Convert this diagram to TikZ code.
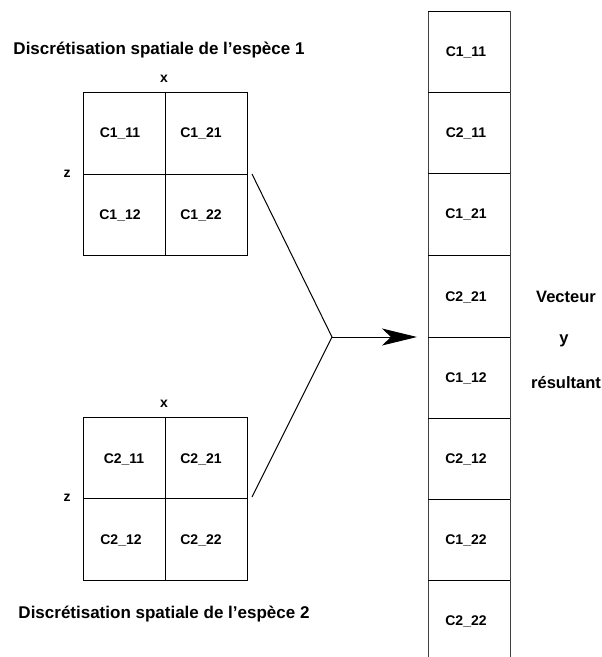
\documentclass[tikz,border=0pt]{standalone}
\usepackage{fontspec}
\setmainfont{Liberation Sans}
\usetikzlibrary{arrows.meta}
\begin{document}
\begin{tikzpicture}[x=1pt,y=-1pt,
  line width=1pt,
  lbl/.style={font=\fontsize{14}{16}\selectfont\bfseries, inner sep=0pt},
  title/.style={font=\fontsize{17}{19}\selectfont\bfseries, inner sep=0pt},
  side/.style={font=\fontsize{16.5}{18}\selectfont\bfseries, inner sep=0pt},
  vline/.style={draw=black!75},
  tip/.style={-{Stealth[length=35pt,width=17pt,inset=9pt]}}]
\useasboundingbox (0,0) rectangle (602,657);

% ---- grid of species 1
\draw (83,92) rectangle (247,255);
\draw (165,92) -- (165,255);
\draw (83,174) -- (247,174);
\node[title] (t1) at (159,50) {Discrétisation spatiale de l’espèce 1};
\node[lbl] (x1) at (164,79) {x};
\node[lbl] (z1) at (67,174) {z};
\node[lbl] (a11) at (120,133) {C1\_11};
\node[lbl] (a21) at (201,133) {C1\_21};
\node[lbl] (a12) at (120,215) {C1\_12};
\node[lbl] (a22) at (201,215) {C1\_22};

% ---- grid of species 2
\draw (83,417) rectangle (247,580);
\draw (165,417) -- (165,580);
\draw (83,498) -- (247,498);
\node[lbl] (x2) at (164,404) {x};
\node[lbl] (z2) at (67,498) {z};
\node[lbl] (b11) at (124,459) {C2\_11};
\node[lbl] (b21) at (201,459) {C2\_21};
\node[lbl] (b12) at (121,540) {C2\_12};
\node[lbl] (b22) at (201,540) {C2\_22};
\node[title] (t2) at (164,614) {Discrétisation spatiale de l’espèce 2};

% ---- merge connectors
\coordinate (s1) at (252,174);
\coordinate (s2) at (252,497);
\coordinate (j) at (332,337);
\coordinate (e) at (417,337);
\draw (s1) -- (j) -- (s2);
\draw[tip] (j) -- (e);

% ---- resulting vector (open at the bottom)
\draw[vline] (428,11) -- (428,657);
\draw[vline] (510,11) -- (510,657);
\foreach \yy in {11,92,173,255,337,418,499,580}
  \draw (428,\yy) -- (510,\yy);
\node[lbl] (v1) at (466,52)  {C1\_11};
\node[lbl] (v2) at (466,133) {C2\_11};
\node[lbl] (v3) at (466,214) {C1\_21};
\node[lbl] (v4) at (466,297) {C2\_21};
\node[lbl] (v5) at (466,378) {C1\_12};
\node[lbl] (v6) at (466,459) {C2\_12};
\node[lbl] (v7) at (466,540) {C1\_22};
\node[lbl] (v8) at (466,621) {C2\_22};

\node[side] (r1) at (566,297) {Vecteur};
\node[side] (r2) at (564,341) {y};
\node[side] (r3) at (566,383) {résultant};
\end{tikzpicture}
\end{document}
